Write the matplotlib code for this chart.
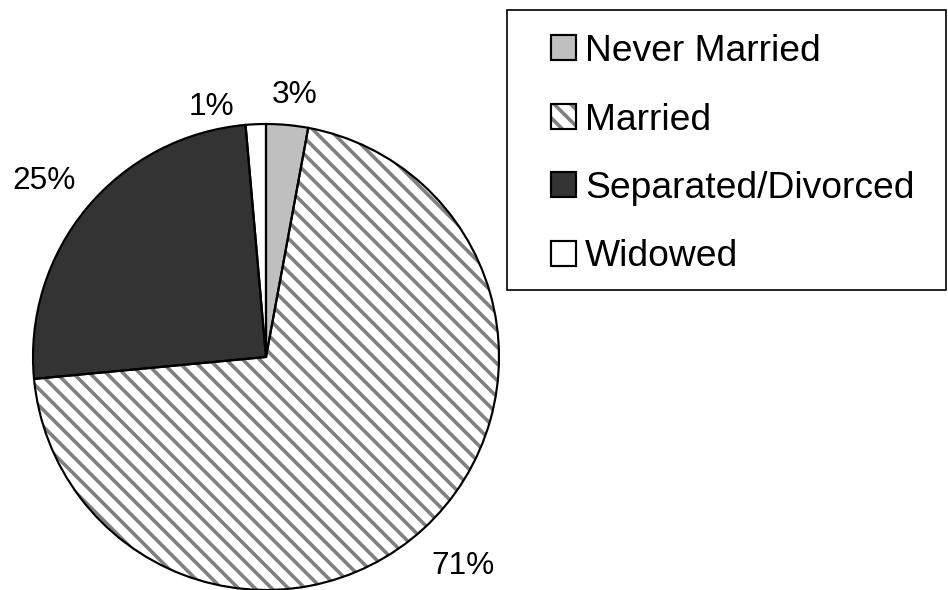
import matplotlib

matplotlib.use("Agg")
import matplotlib.pyplot as plt
from matplotlib.patches import Rectangle

# values (percent of respondents)
categories = ["Never Married", "Married", "Separated/Divorced", "Widowed"]
shares = [2.9, 70.6, 25.1, 1.4]
pct_labels = ["3%", "71%", "25%", "1%"]

face_colors = ["#bfbfbf", "white", "#333333", "white"]
hatches = [None, "\\\\", None, None]
hatch_grey = "#808080"

# label centres in pie units (radius = 1), Excel style nudged placement
label_xy = [(0.124, 1.124), (0.845, -0.895), (-0.953, 0.755), (-0.236, 1.073)]

W, H, DPI = 948, 590, 100
plt.rcParams["font.family"] = ["Liberation Sans", "DejaVu Sans"]
plt.rcParams["hatch.linewidth"] = 2.6

fig = plt.figure(figsize=(W / DPI, H / DPI), dpi=DPI)

cx, cy, r = 266, 357, 233
ax = fig.add_axes([(cx - r) / W, (H - cy - r) / H, 2 * r / W, 2 * r / H])

# fill pass: hatch colour comes from edgecolor, so draw fills with grey edges
fills, _ = ax.pie(
    shares,
    startangle=90,
    counterclock=False,
    colors=face_colors,
    wedgeprops={"edgecolor": hatch_grey, "linewidth": 0},
)
for wedge, hatch in zip(fills, hatches):
    if hatch:
        wedge.set_hatch(hatch)

# outline pass
ax.pie(
    shares,
    startangle=90,
    counterclock=False,
    colors=["none"] * len(shares),
    wedgeprops={"edgecolor": "black", "linewidth": 1.55},
)

for text, (x, y) in zip(pct_labels, label_xy):
    ax.text(x, y, text, ha="center", va="center", fontsize=22.8, color="black")

ax.set_xlim(-1, 1)
ax.set_ylim(-1, 1)
ax.set_aspect("equal")
ax.axis("off")

# legend frame drawn by hand so the padding matches
box_l, box_t, box_r, box_b = 507, 10, 946, 290
fig.patches.append(
    Rectangle(
        (box_l / W, 1 - box_b / H),
        (box_r - box_l) / W,
        (box_b - box_t) / H,
        transform=fig.transFigure,
        facecolor="white",
        edgecolor="black",
        linewidth=1.2,
        zorder=0,
    )
)

# each handle is a grey-hatched fill overlaid with a black outline
handles = []
for color, hatch in zip(face_colors, hatches):
    fill = Rectangle((0, 0), 1, 1, facecolor=color, edgecolor=hatch_grey, linewidth=0, hatch=hatch)
    outline = Rectangle((0, 0), 1, 1, facecolor="none", edgecolor="black", linewidth=1.55)
    handles.append((fill, outline))

fig.legend(
    handles,
    categories,
    loc="upper left",
    bbox_to_anchor=(551 / W, 1 - 34 / H),
    frameon=False,
    fontsize=26.8,
    handlelength=0.66,
    handleheight=0.66,
    handletextpad=0.25,
    labelspacing=0.9,
    borderpad=0,
    borderaxespad=0,
)

fig.savefig("out.png", dpi=DPI)
plt.close(fig)
